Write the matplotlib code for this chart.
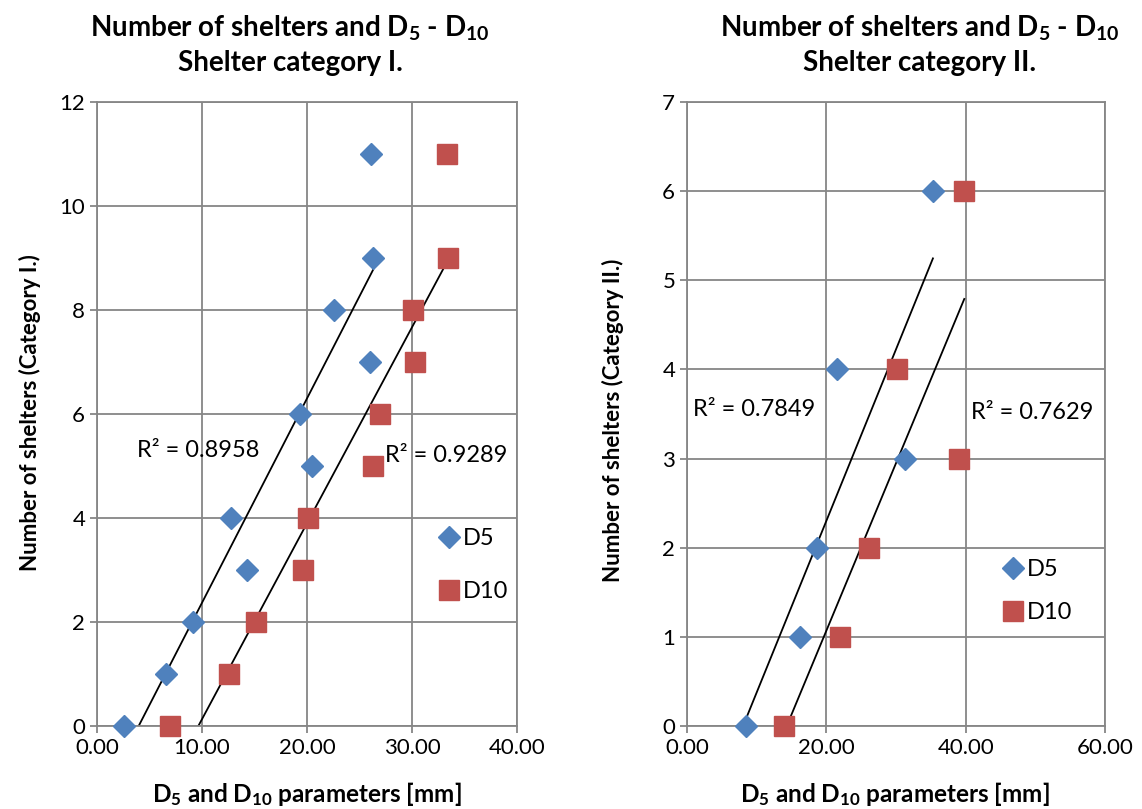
import numpy as np
import matplotlib
matplotlib.use("Agg")
import matplotlib.pyplot as plt
from matplotlib.ticker import MultipleLocator, FormatStrFormatter

plt.rcParams['font.family'] = ['Lato', 'DejaVu Sans']
plt.rcParams['mathtext.fontset'] = 'custom'
plt.rcParams['mathtext.rm'] = 'Lato'
plt.rcParams['mathtext.bf'] = 'Lato:bold'
plt.rcParams['mathtext.default'] = 'bf'

# category I. data
cat1_d5 = [2.6, 6.6, 9.1, 14.3, 12.8, 20.5, 19.3, 26.0, 22.6, 26.3, 26.1]
cat1_d10 = [7.0, 12.6, 15.1, 19.6, 20.1, 26.3, 27.0, 30.3, 30.1, 33.4, 33.3]
cat1_n = [0, 1, 2, 3, 4, 5, 6, 7, 8, 9, 11]
cat1_r2 = ["R² = 0.8958", "R² = 0.9289"]

# category II. data
cat2_d5 = [8.4, 16.2, 18.7, 31.3, 21.5, 35.3]
cat2_d10 = [13.9, 21.9, 26.1, 39.1, 30.2, 39.8]
cat2_n = [0, 1, 2, 3, 4, 6]
cat2_r2 = ["R² = 0.7849", "R² = 0.7629"]

blue = '#4F81BD'
red = '#C0504D'
grid_c = '#868686'

fig = plt.figure(figsize=(11.42, 8.09), dpi=100)


def panel(rect, d5, d10, n, xmax, xstep, ymax, ystep, r2, r2pos, legpos, legspace):
    ax = fig.add_axes(rect)
    ax.set_xlim(0, xmax)
    ax.set_ylim(0, ymax)
    ax.xaxis.set_major_locator(MultipleLocator(xstep))
    ax.yaxis.set_major_locator(MultipleLocator(ystep))
    ax.xaxis.set_major_formatter(FormatStrFormatter('%.2f'))
    ax.grid(True, color=grid_c, linewidth=1.3)
    ax.set_axisbelow(True)
    for s in ax.spines.values():
        s.set_color(grid_c)
        s.set_linewidth(1.3)
    ax.tick_params(colors=grid_c, labelcolor='black', labelsize=16, length=5, width=1.3)

    # linear trend lines
    for xs in (d5, d10):
        k, b = np.polyfit(xs, n, 1)
        xx = np.array([min(xs), max(xs)])
        ax.plot(xx, k * xx + b, color='black', linewidth=1.3, zorder=2)

    ax.plot(d5, n, linestyle='none', marker='D', markersize=11, color=blue,
            label='D5', clip_on=False, zorder=3)
    ax.plot(d10, n, linestyle='none', marker='s', markersize=14, color=red,
            label='D10', clip_on=False, zorder=3)

    for txt, (tx, ty) in zip(r2, r2pos):
        ax.text(tx, ty, txt, fontsize=17, ha='left', va='center')

    ax.legend(loc='center left', bbox_to_anchor=legpos, frameon=False,
              fontsize=17, handletextpad=0.15, labelspacing=legspace,
              handlelength=0.9, borderaxespad=0, markerscale=1.05)
    return ax


panel([0.0849, 0.1026, 0.3678, 0.7713], cat1_d5, cat1_d10, cat1_n,
      40, 10, 12, 2, cat1_r2, [(3.8, 5.3), (27.4, 5.2)], (0.79, 0.258), 1.35)
panel([0.6016, 0.1026, 0.3660, 0.7713], cat2_d5, cat2_d10, cat2_n,
      60, 20, 7, 1, cat2_r2, [(0.8, 3.55), (40.8, 3.52)], (0.732, 0.216), 0.95)

# titles and axis labels
title_top = "Number of shelters and D$_5$ - D$_{10}$"
fig.text(0.254, 0.945, title_top + "\nShelter category I.", ha='center', va='center',
         fontsize=20, fontweight='bold', linespacing=1.35)
fig.text(0.805, 0.945, title_top + "\nShelter category II.", ha='center', va='center',
         fontsize=20, fontweight='bold', linespacing=1.35)

xlab = "D$_5$ and D$_{10}$ parameters [mm]"
fig.text(0.269, 0.018, xlab, ha='center', va='center', fontsize=17.5, fontweight='bold')
fig.text(0.784, 0.018, xlab, ha='center', va='center', fontsize=17.5, fontweight='bold')
fig.text(0.026, 0.49, "Number of shelters (Category I.)", rotation=90,
         ha='center', va='center', fontsize=16, fontweight='bold')
fig.text(0.537, 0.48, "Number of shelters (Category II.)", rotation=90,
         ha='center', va='center', fontsize=16, fontweight='bold')

fig.savefig('out.png', dpi=100)
